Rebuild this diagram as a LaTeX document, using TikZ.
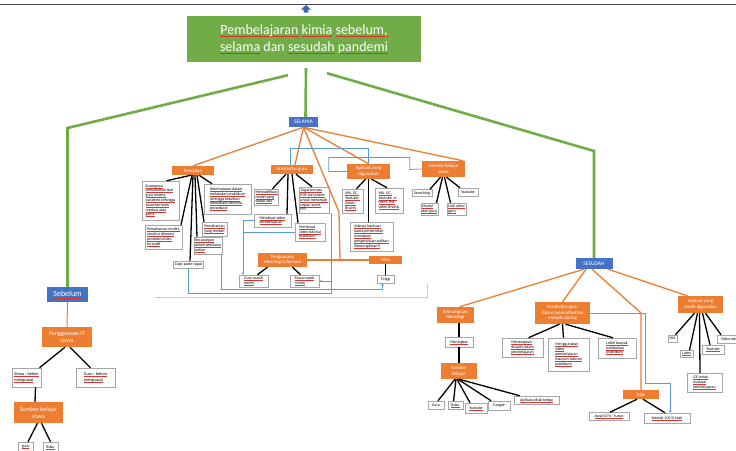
\documentclass[tikz,border=0pt]{standalone}
\usepackage{fontspec}
\setmainfont{Carlito}
\usetikzlibrary{arrows.meta}
\definecolor{orng}{HTML}{ED7D31}
\definecolor{blu}{HTML}{4472C4}
\definecolor{grn}{HTML}{70AD47}
\definecolor{lblue}{HTML}{5B9BD5}
\definecolor{sqred}{HTML}{E03030}
\newsavebox\ulbx
\newcommand\rl[1]{\sbox\ulbx{#1}\leavevmode\rlap{\color{sqred}\rule[-0.35ex]{\wd\ulbx}{0.1ex}}\usebox\ulbx}
\newcommand\rlt[1]{\sbox\ulbx{#1}\leavevmode\rlap{\color{sqred}\rule[-0.3ex]{\wd\ulbx}{0.06ex}}\usebox\ulbx}
\begin{document}
\begin{tikzpicture}[x=1pt,y=-1pt,
  every node/.style={inner sep=0pt},
  sz/.style 2 args={minimum width=#1,minimum height=#2},
  obox/.style={fill=orng,text=white,align=center,font=\fontsize{4.8}{5.6}\selectfont,inner xsep=1pt,inner ysep=0.6pt},
  bbox/.style={fill=blu,text=white,align=center},
  tbox/.style={draw=black!35,fill=white,line width=0.5pt,align=left,font=\fontsize{4}{4.8}\selectfont,inner xsep=1.2pt,inner ysep=0.8pt,text=black},
  bl/.style={draw=black,line width=1.3pt},
  ol/.style={draw=orng,line width=1.3pt},
  gl/.style={draw=grn,line width=2.6pt},
  cl/.style={draw=lblue,line width=0.7pt},
  ca/.style={cl,-{Stealth[length=2.5pt,width=2.5pt]}},
]
\useasboundingbox (0,0) rectangle (736,450);
\clip (0,0) rectangle (736,450);
\fill[white] (0,0) rectangle (736,450);

% top rule and arrow
\draw[black!70,line width=0.8pt] (0,4) -- (736,4);
\fill[blu!90!black] (301,9.5) -- (306,5) -- (311,9.5) -- (308.3,9.5) -- (308.3,12.5) -- (303.7,12.5) -- (303.7,9.5) -- cycle;

% pasted picture border
\draw[black!20,line width=0.6pt] (155,297) -- (427,297) -- (427,283);

% title and main boxes
\node[fill=grn,text=white,align=center,font=\fontsize{14}{17}\selectfont,sz={234}{46}] (title) at (304,39)
  {\rlt{Pembelajaran} \rlt{kimia} \rlt{sebelum,}\\\rlt{selama} dan \rlt{sesudah} \rlt{pandemi}};
\node[bbox,font=\fontsize{5.5}{6}\selectfont,sz={29}{10}] (sel) at (303.5,122) {SELAMA};
\node[bbox,font=\fontsize{8}{9}\selectfont,sz={41}{15}] (seb) at (67.5,294.5) {\rlt{Sebelum}};
\node[bbox,font=\fontsize{5.5}{6}\selectfont,sz={37}{11}] (sesu) at (594,263.5) {SESUDAH};

\coordinate (gLc) at (67.5,128);
\coordinate (gRc) at (594,151);
\draw[gl] ([xshift=-16pt,yshift=-13pt]title.south) -- (gLc) -- (seb.north);
\draw[gl] ([xshift=2pt,yshift=-6pt]title.south) -- ([xshift=2pt]sel.north);
\draw[gl] ([xshift=23pt,yshift=-11pt]title.south) -- (gRc) -- (sesu.north);

% ---- SELAMA subtree
\node[obox,sz={42}{9}] (kend) at (193,170.5) {Kendalan};
\node[obox,sz={42}{9}] (kreat) at (292,169.5) {Kreativitas guru};
\node[obox,sz={43}{15}] (apl) at (368.5,171.5) {Aplikasi yang\\digunakan};
\node[obox,sz={43}{16}] (met) at (443.5,169) {Metode belajar\\siswa};
\node[obox,sz={49}{14}] (peng) at (282.5,260) {Penguasaan\\teknologi informasi};
\node[obox,sz={33}{8}] (nil1) at (385.5,260) {Nilai};

\node[tbox,sz={37}{39}] (kA) at (160.5,200.5) {\rl{Kurangnya}\\\rl{pemahaman dari}\\\rl{guru selama}\\\rl{pandemi sehingga}\\\rl{siswa bermain}\\\rl{medsos atau}\\\rl{game}};
\node[tbox,sz={47}{30}] (kB) at (227.5,199) {\rl{Keterbatasan dalam}\\\rl{melakukan praktikum}\\\rl{sehingga kesulitan}\\\rl{memahami dimensi}\\\rl{prosedural}};
\node[tbox,sz={37}{24}] (kC) at (163.5,237) {\rl{Pemahaman model,}\\\rl{struktur dimensi}\\\rl{prosedural dan}\\\rl{formatif}};
\node[tbox,sz={25}{14}] (kD) at (214.5,229) {\rl{Pemahaman}\\\rl{yang rendah}};
\node[tbox,sz={28}{17}] (kE) at (208,245.5) {\rl{Kecurangan}\\\rl{dalam penilaian}\\\rl{online}};
\node[tbox,sz={29}{7}] (kF) at (188.5,264.5) {Copy paste tugas};

\node[tbox,sz={23}{16}] (gM) at (266.5,197) {\rl{Memodifikasi}\\\rl{model yang}\\\rl{sudah ada}};
\node[tbox,sz={26}{26}] (gT) at (314,200) {\rl{Tugas berupa}\\\rl{PDF dan poster}\\\rl{untuk mencegah}\\\rl{copas, word,}\\PPT};
\node[tbox,sz={37}{13}] (gV) at (272.5,220.5) {\rl{Membuat video}\\\rl{pembelajaran}};
\node[tbox,sz={30}{18}] (gVT) at (310,232) {\rl{Membuat}\\\rl{video tutorial}\\\rl{praktikum}};
\node[tbox,sz={29}{12}] (pG) at (253.5,281) {\rl{Guru masih}\\\rl{minim}};
\node[tbox,sz={29}{12}] (pS) at (304.5,281) {\rl{Siswa masih}\\\rl{minim}};
\node[tbox,sz={17}{8}] (nT) at (385.5,279) {Tinggi};

\node[tbox,sz={21}{24}] (aW1) at (352.5,201) {\rl{WA, GC,}\\\rl{Youtube,}\\\rl{Zoom,}\\\rl{Brainly}};
\node[tbox,sz={28}{25}] (aW2) at (389,200.5) {\rl{WA, GC,}\\\rl{Youtube, e-}\\\rl{meet, link}\\\rl{video Brainly}};
\node[tbox,sz={43}{29}] (aA) at (371.5,236.5) {\rl{Adanya bantuan}\\\rl{kuota pemerintah}\\\rl{mendapat}\\\rl{pengetahuan aplikasi}\\\rl{(kemungkinan?)}};

\node[tbox,sz={20}{7}] (mS) at (422,193) {Searching};
\node[tbox,sz={17}{12}] (mM) at (429.5,209) {\rl{Modul}\\\rl{dari guru}};
\node[tbox,sz={17}{12}] (mL) at (456.5,209) {\rl{Link video}\\\rl{guru}};
\node[tbox,sz={20}{8}] (mY) at (468,192) {Youtube};

\coordinate (ob) at (339,212);
\coordinate (oc) at (340,260);
\draw[ol] (sel.south) -- (kend.north);
\draw[ol] (sel.south) -- ([xshift=3pt]kreat.north);
\draw[ol] (sel.south) -- (apl.north);
\draw[ol] (sel.south) -- ([xshift=-2pt]met.north east);
\draw[ol] (sel.south) -- (ob) -- (oc);
\draw[ol] (peng.east) -- (nil1.west);

\draw[bl] ([xshift=-2pt]kend.south) -- ([xshift=6pt]kA.north);
\draw[bl] ([xshift=-1pt]kend.south) -- ([xshift=17.5pt]kC.north);
\draw[bl] (kend.south) -- ([xshift=1.5pt]kF.north);
\draw[bl] ([xshift=2pt]kend.south) -- ([xshift=-11pt]kE.north);
\draw[bl] ([xshift=4pt]kend.south) -- ([xshift=-10.5pt]kD.north);
\draw[bl] ([xshift=6pt]kend.south) -- ([xshift=-15.5pt]kB.north);

\draw[bl] ([xshift=-6pt]kreat.south) -- ([xshift=6pt]gM.north);
\draw[bl] ([xshift=-4pt]kreat.south) -- ([xshift=14.5pt]gV.north);
\draw[bl] (kreat.south) -- ([xshift=-12pt]gVT.north);
\draw[bl] ([xshift=4pt]kreat.south) -- ([xshift=-2pt]gT.north);

\draw[bl] ([xshift=-3pt]apl.south) -- ([xshift=4pt]aW1.north);
\draw[bl] (apl.south) -- ([xshift=-3pt]aA.north);
\draw[bl] ([xshift=3pt]apl.south) -- ([xshift=-2pt]aW2.north);

\draw[bl] ([xshift=-3pt]met.south) -- ([xshift=8pt]mS.north);
\draw[bl] ([xshift=-1pt]met.south) -- ([xshift=7pt]mM.north);
\draw[bl] ([xshift=1pt]met.south) -- ([xshift=-6pt]mL.north);
\draw[bl] ([xshift=3pt]met.south) -- ([xshift=-8pt]mY.north);

\draw[bl] ([xshift=-15pt]peng.south) -- ([xshift=4pt]pG.north);
\draw[bl] ([xshift=10pt]peng.south) -- ([xshift=-4pt]pS.north);
\draw[bl] (nil1.south) -- (nT.north);

\draw[cl] ([xshift=-2pt]kreat.north) -- ++(0,-16) -| (apl.north);
\draw[cl] (apl.west) -- ++(-18,0) -- ++(0,-14) -- ++(81,0) -- ++(0,12) -- (met.west);
\draw[ca] (gV.west) -| ([xshift=-10.5pt]pG.north);
\draw[cl] (gVT.west) -- ++(-52,0);
\draw[ca] ([xshift=2pt]gT.south east) |- (pS.east);
\draw[cl] (kF.south) -- ++(0,25) -| ([xshift=2pt]gT.south east);
\draw[ca] ([xshift=-1pt]kE.south east) -- ++(0,35) -| ([xshift=-3pt]nT.south);

% ---- Sebelum subtree
\node[obox,font=\fontsize{6}{7}\selectfont,sz={50}{20}] (pIT) at (67,337) {Penggunaan IT\\siswa};
\node[tbox,font=\fontsize{4.3}{5.5}\selectfont,sz={29}{19}] (sB) at (26.5,377.5) {\rl{Siswa : belum}\\\rl{menguasai}};
\node[tbox,font=\fontsize{4.3}{5.5}\selectfont,sz={39}{19}] (gB) at (95.5,377.5) {\rl{Guru : belum}\\\rl{menguasai}};
\node[obox,font=\fontsize{6}{7}\selectfont,sz={49}{21}] (sbs) at (38.5,412.5) {Sumber belajar\\siswa};
\node[tbox,sz={15}{10}] (guru) at (25.5,447) {\rl{guru}};
\node[tbox,sz={15}{10}] (buku) at (50.5,447) {\rl{Buku}};

\draw[ol,line width=1pt] (seb.south) -- (pIT.north);
\draw[bl] ([xshift=-2pt]pIT.south) -- ([xshift=13pt]sB.north);
\draw[bl] ([xshift=3pt]pIT.south) -- ([xshift=-5pt]gB.north);
\draw[bl] ([xshift=9pt]sB.south) -- ([xshift=-3.5pt]sbs.north);
\draw[bl] ([xshift=-1pt]sbs.south) -- ([xshift=2.5pt]guru.north);
\draw[bl] ([xshift=3pt]sbs.south) -- (buku.north);

% ---- SESUDAH subtree
\node[obox,sz={37}{16}] (kt) at (455.5,315) {Kemampuan\\teknologi};
\node[tbox,sz={28}{10}] (mk) at (459,342) {\rl{Meningkat}};
\node[obox,sz={36}{16}] (sbj) at (459,371) {Sumber\\Belajar};
\node[tbox,sz={16}{8}] (gu) at (436,405) {Guru};
\node[tbox,sz={15}{8}] (bu) at (455.5,405.5) {\rl{Buku}};
\node[tbox,sz={22}{10}] (yt) at (476,408) {\rl{Youtube}};
\node[tbox,sz={22}{9}] (go) at (499,405.5) {Google};
\node[tbox,sz={45}{8}] (ap) at (536.5,400) {\rl{Aplikasi pihak ketiga}};

\node[obox,sz={55}{22}] (kr2) at (562.5,313) {Kreativitas guru\\dalam memanfaatkan\\metode daring};
\node[tbox,sz={41}{19}] (k2a) at (522.5,347.5) {\rl{Menerapkan}\\\rl{disiplin dalam}\\\rl{pembelajaran}};
\node[tbox,sz={41}{33}] (k2b) at (568.5,354.5) {\rl{Menggunakan}\\\rl{video}\\\rl{pembelajaran}\\\rl{maupun tutorial}\\\rl{praktikum}};
\node[tbox,sz={38}{20}] (k2c) at (617,348) {\rl{Lebih banyak}\\\rl{melakukan}\\\rl{praktikum}};

\node[obox,sz={36}{9}] (n2) at (641,394.5) {Nilai};
\node[tbox,sz={40}{8}] (n2a) at (609,416.5) {\rl{Awal 50 \% - turun}};
\node[tbox,sz={46}{10}] (n2b) at (667,418) {\rl{Setelah 100 \% Naik}};

\node[obox,sz={45}{17}] (ap2) at (700.5,304.5) {Aplikasi yang\\masih digunakan};
\node[tbox,sz={9}{7}] (wa) at (672.5,338.5) {WA};
\node[tbox,sz={13}{7}] (lat) at (686.5,354) {\rl{Latex}};
\node[tbox,sz={22}{9}] (yt2) at (713,349.5) {\rl{Youtube}};
\node[tbox,sz={30}{8},anchor=west] (ve) at (717,339) {Video edukasi};
\node[tbox,sz={35}{19}] (gf) at (704.5,382.5) {\rl{GF untuk}\\\rl{evaluasi}\\\rl{pembelajaran}};

\draw[ol] ([xshift=-10pt]sesu.south) -- ([xshift=4pt]kt.north);
\draw[ol] ([xshift=-8pt]sesu.south) -- (kr2.north);
\draw[ol] ([xshift=-2pt]sesu.south) -- (n2.north |- kr2.east) -- (n2.north);
\draw[ol] ([xshift=14pt]sesu.south) -- ([xshift=-13pt]ap2.north);

\draw[bl] (mk.north |- kt.south) -- (mk.north);
\draw[bl] (mk.south) -- (sbj.north);
\draw[bl] ([xshift=-4pt]sbj.south) -- ([xshift=2pt]gu.north);
\draw[bl] ([xshift=-3pt]sbj.south) -- ([xshift=-2pt]bu.north);
\draw[bl] ([xshift=-2pt]sbj.south) -- ([xshift=-6pt]yt.north);
\draw[bl] ([xshift=-1pt]sbj.south) -- ([xshift=-8pt]go.north);
\draw[bl] (sbj.south) -- ([xshift=6pt]ap.north west);

\draw[bl] ([xshift=-3pt]kr2.south) -- ([xshift=6pt]k2a.north);
\draw[bl] (kr2.south) -- ([xshift=-5pt]k2b.north);
\draw[bl] ([xshift=3pt]kr2.south) -- ([xshift=-4pt]k2c.north);
\draw[bl] ([xshift=-4pt]n2.south) -- ([xshift=1pt]n2a.north);
\draw[bl] ([xshift=2pt]n2.south) -- ([xshift=-2pt]n2b.north);

\draw[bl] ([xshift=-6pt]ap2.south) -- ([xshift=3pt]wa.north);
\draw[bl] ([xshift=-3pt]ap2.south) -- ([xshift=3pt]lat.north);
\draw[bl] ([xshift=-1pt]ap2.south) -- ([xshift=-4.5pt]gf.north);
\draw[bl] ([xshift=2pt]ap2.south) -- ([xshift=-3pt]yt2.north);
\draw[bl] ([xshift=5pt]ap2.south) -- ([xshift=4pt]ve.north west);

\draw[ca] (kr2.east) -- ++(55,0) -- ++(0,70) -| ([xshift=3pt]n2b.north);
\end{tikzpicture}
\end{document}
